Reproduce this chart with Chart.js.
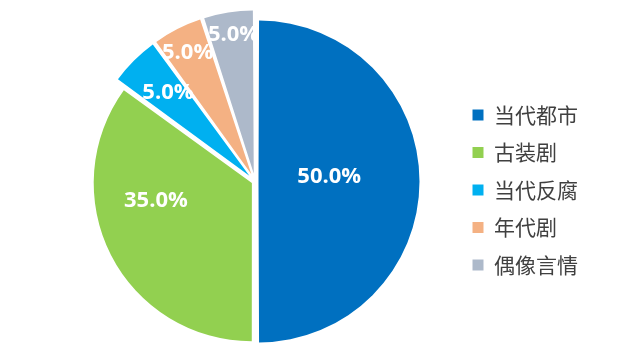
<!DOCTYPE html>
<html>
<head>
<meta charset="utf-8">
<script src="https://cdn.jsdelivr.net/npm/chart.js@4/dist/chart.umd.min.js"></script>
<style>
  html, body { margin: 0; padding: 0; background: #fff; }
  #wrap { width: 640px; height: 363px; position: relative; }
</style>
</head>
<body>
<div id="wrap"><canvas id="c"></canvas></div>
<script>
// data
const categories = ['当代都市', '古装剧', '当代反腐', '年代剧', '偶像言情'];
const shares = [50.0, 35.0, 5.0, 5.0, 5.0];
const sliceColors = ['#0070C0', '#92D050', '#00B0F0', '#F4B183', '#ADB9CA'];

// explode distance for each slice (chart.js moves by offset/4)
const sliceOffset = [14, 14, 32, 32, 32];
// where the % label sits: t = fraction across the slice angle, f = fraction of radius
const labelPlace = [
    { t: 0.48, f: 0.45 },
    { t: 0.63, f: 0.62 },
    { t: 0.54, f: 0.74 },
    { t: 0.46, f: 0.87 },
    { t: 0.54, f: 0.89 }
];

const LABEL_FONT = 'bold 22px "Open Sans"';

const pctLabels = {
    id: 'pctLabels',
    afterDatasetsDraw(chart) {
        const ctx = chart.ctx;
        const meta = chart.getDatasetMeta(0);
        ctx.save();
        ctx.fillStyle = '#ffffff';
        ctx.font = LABEL_FONT + ', sans-serif';
        ctx.textAlign = 'center';
        ctx.textBaseline = 'middle';
        meta.data.forEach((arc, i) => {
            const p = arc.getProps(['x', 'y', 'startAngle', 'endAngle', 'outerRadius'], true);
            const mid = (p.startAngle + p.endAngle) / 2;
            const shift = sliceOffset[i] / 4;
            const cx = p.x + Math.cos(mid) * shift;
            const cy = p.y + Math.sin(mid) * shift;
            const a = p.startAngle + labelPlace[i].t * (p.endAngle - p.startAngle);
            const r = p.outerRadius * labelPlace[i].f;
            ctx.fillText(shares[i].toFixed(1) + '%', cx + Math.cos(a) * r, cy + Math.sin(a) * r);
        });
        ctx.restore();
    }
};

function draw() {
    new Chart(document.getElementById('c'), {
        type: 'pie',
        data: {
            labels: categories,
            datasets: [{
                data: shares,
                backgroundColor: sliceColors,
                borderWidth: 0,
                offset: sliceOffset
            }]
        },
        options: {
            responsive: true,
            maintainAspectRatio: false,
            animation: false,
            radius: 157.5,
            layout: { padding: { left: 54, right: 52, top: 0, bottom: 0 } },
            plugins: {
                tooltip: { enabled: false },
                legend: {
                    position: 'right',
                    title: { display: true, text: ' ', font: { size: 10 }, padding: { top: 0, bottom: 5 } },
                    labels: {
                        boxWidth: 11,
                        boxHeight: 11,
                        padding: 16.5,
                        color: '#404040',
                        font: { size: 21, family: '"Noto Sans CJK SC", sans-serif' }
                    }
                }
            }
        },
        plugins: [pctLabels]
    });
}

Promise.all([
    document.fonts.load(LABEL_FONT),
    document.fonts.load('21px "Noto Sans CJK SC"', '当代都市')
]).then(draw, draw);
</script>
</body>
</html>
